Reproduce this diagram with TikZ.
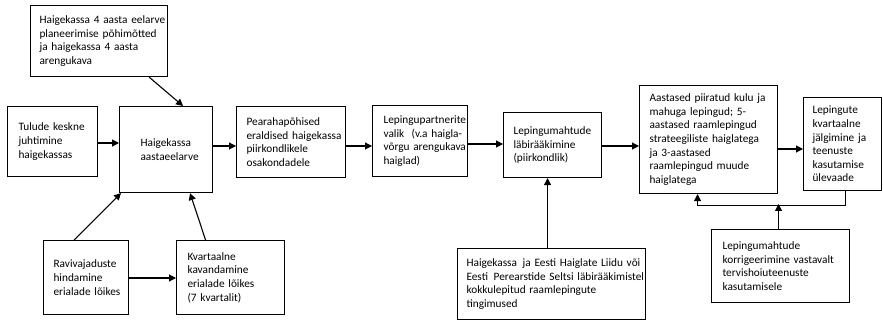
\documentclass[tikz,border=0pt]{standalone}
\usepackage{fontspec}
\setmainfont{Carlito}
\usepackage{tikz}
\usetikzlibrary{positioning,arrows.meta}
\hyphenpenalty=10000
\exhyphenpenalty=10000

\begin{document}
\begin{tikzpicture}[x=1pt,y=-1pt,
  box/.style={draw, line width=1.1pt, anchor=north west, align=left,
    inner ysep=0pt, font=\fontsize{11.3}{13.6}\selectfont},
  arr/.style={line width=1.1pt, -{Triangle[length=7pt,width=7pt]}}]
\useasboundingbox (0,0) rectangle (883,320);
% boxes
\node[box, inner xsep=9pt, text width=119pt, minimum height=71pt] (plan) at (30,5)
  {Haigekassa~4~aasta~eelarve\\ planeerimise~põhimõtted\\ ja haigekassa 4 aasta\\ arengukava};
\node[box, inner xsep=11pt, text width=68pt, minimum height=70pt] (tulud) at (7,106)
  {Tulude~keskne\\ juhtimine\\ haigekassas\\[4pt]};
\node[box, inner xsep=21pt, text width=51pt, minimum height=86pt] (eelarve) at (119,106)
  {Haigekassa\\ aastaeelarve};
\node[box, inner xsep=10pt, text width=89pt, minimum height=71pt] (pearaha) at (236,106)
  {Pearahapõhised\\ eraldised~haigekassa\\ piirkondlikele\\ osakondadele};
\node[box, inner xsep=11pt, text width=73pt, minimum height=71pt] (partner) at (372,105)
  {Lepingupartnerite\\ valik~~(v.a~haigla-\\ võrgu~arengukava\\ haiglad)};
\node[box, inner xsep=10pt, text width=78pt, minimum height=65pt] (labi) at (503,112)
  {Lepingumahtude\\ läbirääkimine\\ (piirkondlik)\\[4pt]};
\node[box, inner xsep=10pt, text width=118pt, minimum height=108pt] (aastased) at (639,85)
  {Aastased piiratud kulu~ja\\ mahuga lepingud; 5-\\ aastased raamlepingud\\ strateegiliste~haiglatega\\ ja 3-aastased\\ raamlepingud muude\\ haiglatega};
\node[box, inner xsep=9pt, text width=60pt, minimum height=93pt] (jalg) at (803,97)
  {Lepingute\\ kvartaalne\\ jälgimine ja\\ teenuste\\ kasutamise\\ ülevaade};
\node[box, inner xsep=10pt, text width=65pt, minimum height=74pt] (ravi) at (43,240)
  {Ravivajaduste\\ hindamine\\ erialade~lõikes};
\node[box, inner xsep=11pt, text width=86pt, minimum height=74pt] (kvart) at (176,240)
  {Kvartaalne\\ kavandamine\\ erialade lõikes\\ (7 kvartalit)};
\node[box, inner xsep=9pt, text width=170pt, minimum height=71pt] (liit) at (457,248)
  {Haigekassa\,~ja~Eesti~Haiglate~Liidu~või\\ Eesti\,~Perearstide~Seltsi~läbirääkimistel\\ kokkulepitud raamlepingute\\ tingimused};
\node[box, inner xsep=11pt, text width=116pt, minimum height=73pt] (korr) at (711,229)
  {Lepingumahtude\\ korrigeerimine vastavalt\\ tervishoiuteenuste\\ kasutamisele\\[6pt]};
% connectors
\draw[arr] ([xshift=-19pt]plan.south east) -- ([xshift=17pt]eelarve.north);
\draw[arr] (tulud.east |- 0,143) -- (eelarve.west |- 0,143);
\draw[arr] (eelarve.east |- 0,146) -- (pearaha.west |- 0,146);
\draw[arr] (pearaha.east |- 0,146) -- (partner.west |- 0,146);
\draw[arr] (partner.east |- 0,144) -- (labi.west |- 0,144);
\draw[arr] (labi.east |- 0,146) -- (aastased.west |- 0,146);
\draw[arr] (aastased.east |- 0,149) -- (jalg.west |- 0,149);
\draw[arr] ([xshift=-12pt]ravi.north) -- ([xshift=2pt]eelarve.south west);
\draw[arr] ([xshift=-25pt]kvart.north) -- ([xshift=24pt]eelarve.south);
\draw[arr] (ravi.east |- 0,278) -- (kvart.west |- 0,278);
\draw[arr] ([xshift=-4pt]liit.north) -- ([xshift=-4pt]liit.north |- labi.south);
\draw[arr] ([xshift=3pt]jalg.south) -- ++(0,14) -| ([xshift=-11pt]aastased.south);
\draw[arr] ([xshift=-2pt]korr.north) -- ++(0,-25);
\end{tikzpicture}
\end{document}
